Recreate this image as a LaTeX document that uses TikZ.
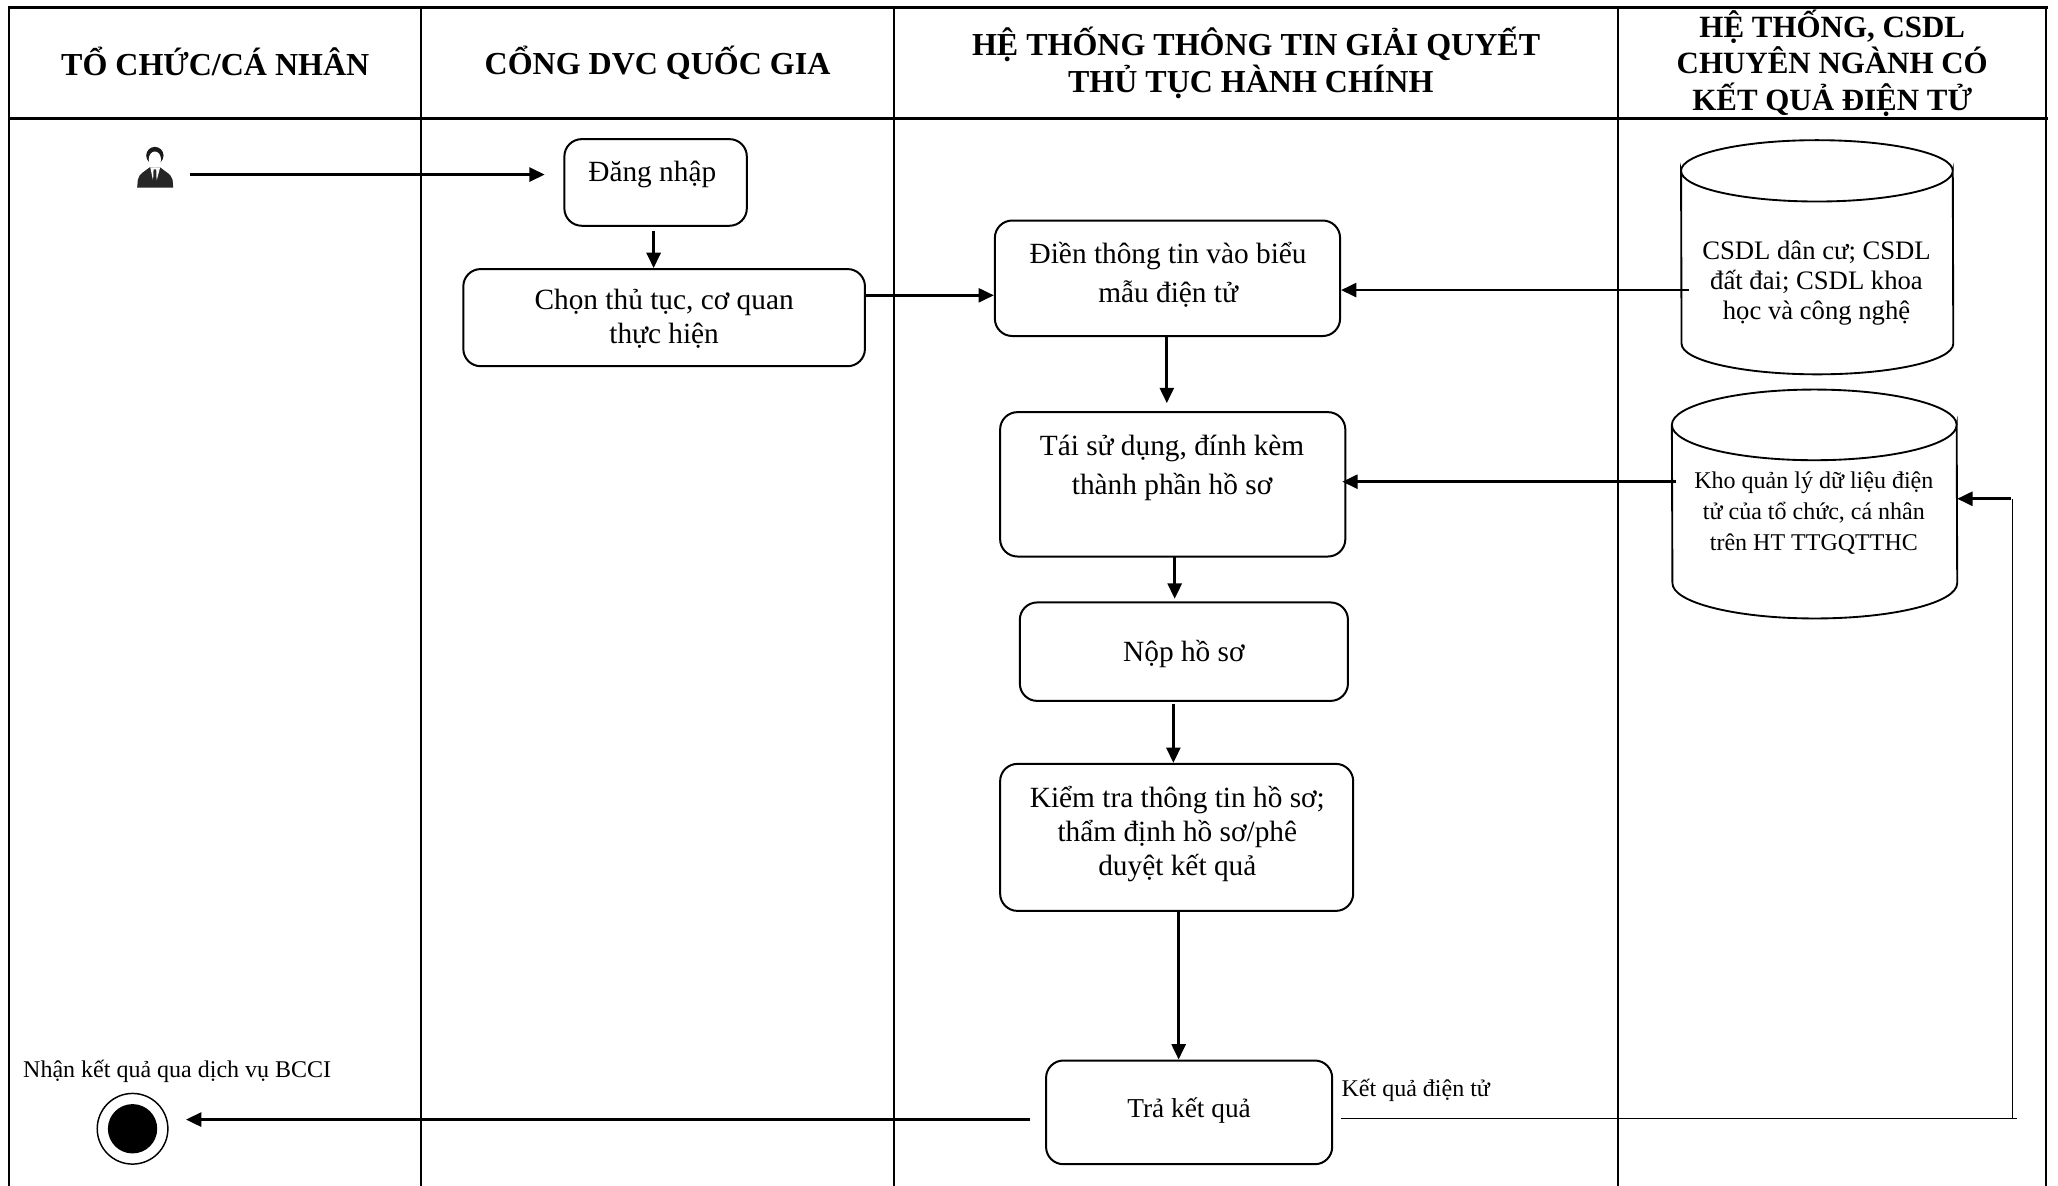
\documentclass[tikz,border=0pt]{standalone}
\usepackage{fontspec}
\setmainfont{Liberation Serif}
\usetikzlibrary{arrows.meta,fit,calc}
\tikzset{
  gridline/.style={draw=black,line width=1.5pt},
  gridlineh/.style={draw=black,line width=2.1pt},
  stepbox/.style={draw=black,line width=1.5pt,rounded corners=13pt,inner sep=0pt,fit={#1}},
  ghost/.style={inner sep=0pt,fit={#1}},
  arr/.style={draw=black,line width=2pt,-{Triangle[length=11.5pt,width=10.5pt]}},
  thinline/.style={draw=black,line width=0.7pt},
  cylline/.style={draw=black,line width=1.4pt,fill=white},
  headtext/.style={font=\fontsize{24}{27.5}\selectfont\bfseries,align=center,inner sep=0pt},
  headtextb/.style={font=\fontsize{23.2}{27.5}\selectfont\bfseries,align=center,inner sep=0pt},
  boxtext/.style={font=\fontsize{22}{25.5}\selectfont,align=center,inner sep=0pt},
  boxtextw/.style={font=\fontsize{22}{29.2}\selectfont,align=center,inner sep=0pt},
  boxtexts/.style={font=\fontsize{20.5}{25.5}\selectfont,align=center,inner sep=0pt},
  cyltext/.style={font=\fontsize{20}{22.5}\selectfont,align=center,inner sep=0pt},
  cyltextb/.style={font=\fontsize{18}{23.5}\selectfont,align=center,inner sep=0pt},
  plaintext/.style={font=\fontsize{18}{21}\selectfont,inner sep=0pt},
  smalltext/.style={font=\fontsize{18}{20}\selectfont,inner sep=0pt},
}
\newcommand{\cylshape}[3]{% node, x radius, y radius
  \draw[cylline] ([yshift=-#3]#1.north west) arc[start angle=180,end angle=360,x radius=#2,y radius=#3]
    -- ([yshift=#3]#1.south east) arc[start angle=0,end angle=-180,x radius=#2,y radius=#3] -- cycle;
  \draw[cylline] ([yshift=-#3]#1.north west) arc[start angle=180,end angle=0,x radius=#2,y radius=#3];
}
\begin{document}
\begin{tikzpicture}[x=0.9844pt,y=-0.9844pt]
\useasboundingbox (0,0) rectangle (1568,903.6);
% swimlane grid
\draw[gridline] (7,904) -- (7,6);
\draw[gridline] (1559,6) -- (1559,904);
\draw[gridlineh] (6,6) -- (1560,6);
\draw[gridlineh] (6,90) -- (1560,90);
\draw[gridline] (321,6) -- (321,904);
\draw[gridline] (681,6) -- (681,904);
\draw[gridline] (1233,6) -- (1233,904);
% headers
\node[headtext] (h1) at (164,46.5) {TỔ CHỨC/CÁ NHÂN};
\node[headtext] (h2) at (501,48) {CỔNG DVC QUỐC GIA};
\node[headtext] (h3) at (957,48) {HỆ THỐNG THÔNG TIN GIẢI QUYẾT\\\hspace*{-8pt}THỦ TỤC HÀNH CHÍNH};
\node[headtextb] (h4) at (1396,48) {HỆ THỐNG, CSDL\\CHUYÊN NGÀNH CÓ\\KẾT QUẢ ĐIỆN TỬ};
% boxes
\node[stepbox={(430,106)(569,172)}] (dang) {};
\node[boxtext] (dangt) at (497,133) {Đăng nhập};
\node[stepbox={(353,205)(659,279)}] (chon) {};
\node[boxtext] (chont) at (506,243) {Chọn thủ tục, cơ quan\\thực hiện};
\node[stepbox={(758,168)(1021,256)}] (dien) {};
\node[boxtextw] (dient) at (890,209.5) {Điền thông tin vào biểu\\mẫu điện tử};
\node[stepbox={(762,314)(1025,424)}] (tai) {};
\node[boxtextw] (tait) at (893,356.5) {Tái sử dụng, đính kèm\\thành phần hồ sơ};
\node[stepbox={(777,459)(1027,534)}] (nop) {};
\node[boxtext] (nopt) at (902,498) {Nộp hồ sơ};
\node[stepbox={(762,582)(1031,694)}] (kiem) {};
\node[boxtext] (kiemt) at (897,635.5) {Kiểm tra thông tin hồ sơ;\\thẩm định hồ sơ/phê\\duyệt kết quả};
\node[stepbox={(797,808)(1015,887)}] (tra) {};
\node[boxtexts] (trat) at (906,846) {Trả kết quả};
% cylinders
\node[ghost={(1281,107)(1488,285)}] (cyla) {};
\cylshape{cyla}{101.9pt}{23pt}
\node[cyltext] (cylat) at (1384,216) {CSDL dân cư; CSDL\\đất đai; CSDL khoa\\học và công nghệ};
\node[ghost={(1274,297)(1491,471)}] (cylb) {};
\cylshape{cylb}{106.8pt}{26.5pt}
\node[cyltextb] (cylbt) at (1382,391) {Kho quản lý dữ liệu điện\\tử của tổ chức, cá nhân\\trên HT TTGQTTHC};
% person
\node[ghost={(104,112)(132,143)}] (person) {};
\fill[black!85] (104.5,143) -- (105,137) .. controls (106,132) and (110,131) .. (114,127.5) -- (122,127.5) .. controls (126,131) and (130,132) .. (131.5,137) -- (132,143) -- cycle;
\fill[white] (114.5,127.5) -- (122,127.5) -- (119.5,137) -- (116.5,137) -- cycle;
\fill[black!85] (117,129) -- (119,129) -- (119.3,137) -- (116.7,137) -- cycle;
\fill[black!90] (118,118.5) ellipse [x radius=6.5pt,y radius=6.5pt];
\fill[white] (118,121.5) ellipse [x radius=4.6pt,y radius=6pt];
% end state
\node[circle,draw=black,line width=1.1pt,minimum size=53pt,inner sep=0pt] (final) at (101,860) {};
\node[circle,fill=black,minimum size=37pt,inner sep=0pt] (finalc) at (final) {};
\node[plaintext] (finall) at (135,816) {Nhận kết quả qua dịch vụ BCCI};
\node[smalltext,anchor=west] (kqlabel) at (1022,831) {Kết quả điện tử};
% free connector ends
\coordinate (a1) at (145,133);
\coordinate (a2) at (498,176);
\coordinate (a3) at (660,225);
\coordinate (a4) at (1287,221);
\coordinate (a5) at (889,256);
\coordinate (a6) at (1277,367);
\coordinate (a7) at (895,424);
\coordinate (a8) at (894,536);
\coordinate (a9) at (898,694);
\coordinate (a10) at (785,853);
\coordinate (k0) at (1022,852);
\coordinate (k1) at (1537,852);
\coordinate (k2) at (1533,380);
\coordinate (k3) at (1532,380);
% connectors
\draw[arr,shorten >=14pt] (a1) -- (a1 -| dang.west);
\draw[arr] (a2) -- (a2 |- chon.north);
\draw[arr] (a3) -- (a3 -| dien.west);
\draw[arr] (a4) -- (a4 -| dien.east);
\draw[arr,shorten >=6pt] (a5) -- (a5 |- tai.north);
\draw[arr,shorten >=-3pt] (a6) -- (a6 -| tai.east);
\draw[arr,shorten >=2pt] (a7) -- (a7 |- nop.north);
\draw[arr] (a8) -- (a8 |- kiem.north);
\draw[arr] (a9) -- (a9 |- tra.north);
\draw[arr,shorten >=13pt] (a10) -- (a10 -| final.east);
\draw[thinline] (k0) -- (k1);
\draw[thinline] (k1 -| k2) -- (k2);
\draw[arr] (k3) -- (k3 -| cylb.east);
\end{tikzpicture}
\end{document}
